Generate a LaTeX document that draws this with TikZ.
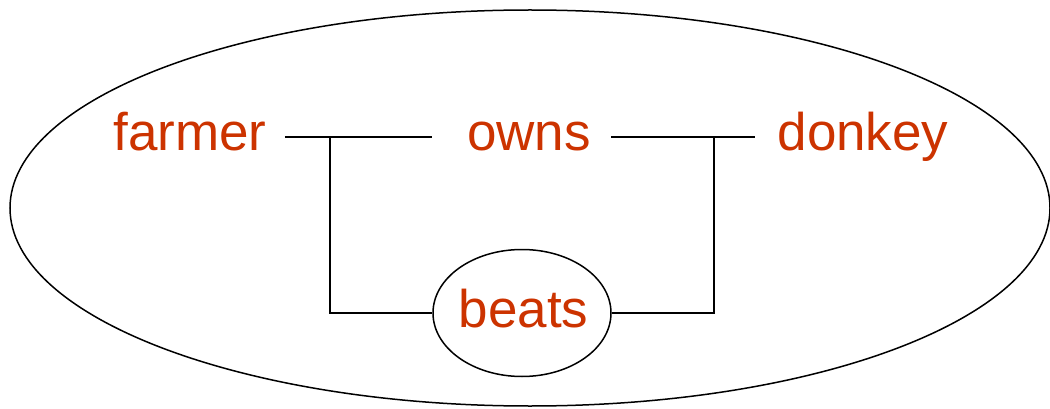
\documentclass[tikz,border=0pt]{standalone}
\usepackage{fontspec}
\setmainfont{Liberation Sans}
\usetikzlibrary{shapes.geometric}
\definecolor{wordred}{RGB}{204,51,0}
\begin{document}
\begin{tikzpicture}[x=1pt,y=-1pt,
  word/.style={text=wordred, font=\fontsize{53}{60}\selectfont, inner sep=0pt, anchor=base},
  wire/.style={line width=1.6pt},
  oval/.style={draw, ellipse, line width=1.5pt, inner sep=0pt}]
\useasboundingbox (0,0) rectangle (1050,409);
% outer context
\node[oval, minimum width=1040pt, minimum height=396pt] (context) at (530,208) {};
% words
\node[word] (farmer) at (190,151) {farmer};
\node[word] (owns) at (529,151) {owns};
\node[word] (donkey) at (863,151) {donkey};
\node[oval, minimum width=178pt, minimum height=127pt, text=wordred,
      font=\fontsize{53}{60}\selectfont, text depth=10pt] (beats) at (522,313)
      {\makebox[0pt]{\hspace{3pt}beats}};
% junctions on the top line
\coordinate (j1) at (330,137);
\coordinate (j2) at (714,137);
% connectors
\draw[wire] ([xshift=18pt]farmer.east |- j1) -- ([xshift=-35pt]owns.west |- j1);
\draw[wire] ([xshift=20pt]owns.east |- j2) -- ([xshift=-22pt]donkey.west |- j2);
\draw[wire] (j1) |- (beats.west);
\draw[wire] (j2) |- (beats.east);
\end{tikzpicture}
\end{document}
